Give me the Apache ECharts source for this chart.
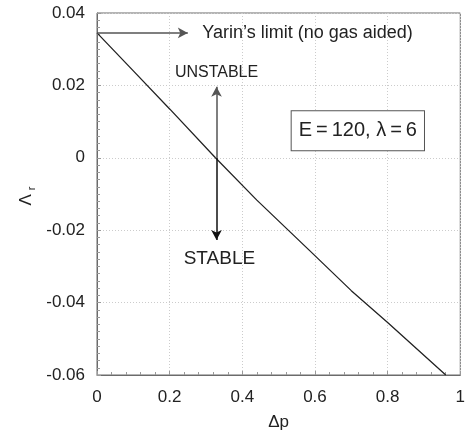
<!DOCTYPE html>
<html>
<head>
<meta charset="utf-8">
<script src="https://cdn.jsdelivr.net/npm/echarts@6/dist/echarts.min.js"></script>
<style>
  html, body { margin: 0; padding: 0; background: #fff; }
  #chart { width: 468px; height: 439px; }
</style>
</head>
<body>
<div id="chart"></div>
<script>
// curve: delta p -> Lambda_r
const dp = [0, 0.1, 0.2, 0.326, 0.44, 0.584, 0.7, 0.8, 0.96];
const lambdaR = [0.0345, 0.024, 0.0135, 0, -0.0117, -0.0255, -0.0367, -0.0455, -0.06];

const yarinLimit = 0.0345;
const crossX = 0.329;
const limitText = 'Yarin\u2019s limit (no gas aided)';
const paramText = 'E\u2009=\u2009120, \u03bb\u2009=\u20096';

const font = 'Liberation Sans, Arial, sans-serif';
const axisGray = '#6b6b6b';

const chart = echarts.init(document.getElementById('chart'));

const option = {
  animation: false,
  // y axis title, rotated to read bottom-to-top
  graphic: [{
    type: 'text',
    x: 26, y: 196,
    rotation: Math.PI / 2,
    style: {
      text: '{m|\u039b}{s|r}',
      align: 'center', verticalAlign: 'middle',
      rich: {
        m: { fontFamily: font, fontSize: 17, fill: '#222', color: '#222' },
        s: { fontFamily: font, fontSize: 11, fill: '#222', color: '#222', padding: [0, 0, -12, 4] }
      }
    }
  }],
  grid: {
    left: 97, right: 6, top: 13, bottom: 64,
    show: true, borderColor: axisGray, borderWidth: 1
  },
  xAxis: {
    type: 'value', min: 0, max: 1, interval: 0.2,
    name: '\u0394p', nameLocation: 'middle', nameGap: 39,
    nameTextStyle: { fontFamily: font, fontSize: 17, color: '#222' },
    axisLine: { onZero: false, lineStyle: { color: axisGray } },
    axisTick: { show: true, inside: true, length: 4, lineStyle: { color: '#999' } },
    minorTick: { show: true, splitNumber: 5, length: 3, lineStyle: { color: '#999' } },
    axisLabel: { fontFamily: font, fontSize: 17, color: '#222', margin: 14,
      formatter: v => String(+v.toFixed(2)) },
    splitLine: { show: true, lineStyle: { color: '#ccc', type: [1, 2] } }
  },
  yAxis: {
    type: 'value', min: -0.06, max: 0.04, interval: 0.02,
    axisLine: { show: true, onZero: false, lineStyle: { color: axisGray } },
    axisTick: { show: true, inside: true, length: 4, lineStyle: { color: '#999' } },
    minorTick: { show: true, splitNumber: 10, length: 3, lineStyle: { color: '#999' } },
    axisLabel: { fontFamily: font, fontSize: 17, color: '#222', margin: 12,
      formatter: v => String(+v.toFixed(2)) },
    splitLine: { show: true, lineStyle: { color: '#ccc', type: [1, 2] } }
  },
  series: [
    {
      type: 'line',
      data: dp.map((x, i) => [x, lambdaR[i]]),
      showSymbol: false,
      lineStyle: { color: '#222', width: 1.3 },
      markLine: {
        silent: true,
        symbol: ['none', 'arrow'],
        symbolSize: [8, 10],
        label: { show: false },
        lineStyle: { type: 'solid', width: 1.5 },
        data: [
          [{ coord: [0, yarinLimit], lineStyle: { color: '#555' } }, { coord: [0.25, yarinLimit] }],
          [{ coord: [crossX, 0], lineStyle: { color: '#555' } }, { coord: [crossX, 0.0196] }],
          [{ coord: [crossX, 0], lineStyle: { color: '#111' } }, { coord: [crossX, -0.0227] }]
        ]
      },
      markPoint: {
        silent: true,
        symbol: 'circle',
        symbolSize: 0,
        data: [
          { coord: [0.29, yarinLimit], label: { show: true, formatter: limitText, position: 'right',
              distance: 0, fontFamily: font, fontSize: 18, color: '#222' } },
          { coord: [crossX, 0.0236], label: { show: true, formatter: 'UNSTABLE', position: 'inside',
              fontFamily: font, fontSize: 16, color: '#222' } },
          { coord: [crossX + 0.008, -0.0278], label: { show: true, formatter: 'STABLE', position: 'inside',
              fontFamily: font, fontSize: 19, color: '#222' } },
          { coord: [0.718, 0.0075], label: { show: true, formatter: paramText, position: 'inside',
              fontFamily: font, fontSize: 20, color: '#222',
              borderColor: '#555', borderWidth: 1, backgroundColor: '#fff',
              padding: [11, 7, 8, 7] } }
        ]
      }
    }
  ]
};

chart.setOption(option);
</script>
</body>
</html>
